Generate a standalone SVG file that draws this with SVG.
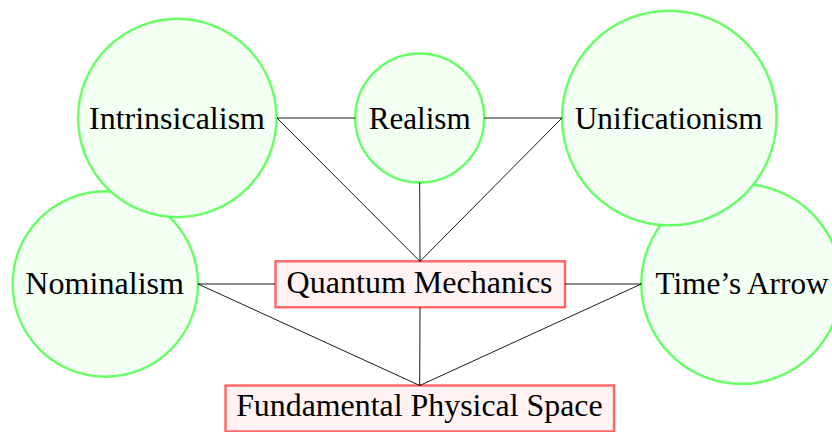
<svg xmlns="http://www.w3.org/2000/svg" width="832" height="432" viewBox="0 0 832 432">
<style>
.c{fill:#f2fff2;stroke:#66ff66;stroke-width:2.4}
.b{fill:#fff2f2;stroke:#ff6666;stroke-width:2.4}
.t{font-family:"Liberation Serif","DejaVu Serif",serif;font-size:31px;fill:#000;text-anchor:middle}
.e{stroke:#000;stroke-width:0.9;fill:none}
</style>
<rect width="832" height="432" fill="#fff"/>
<g id="nominalism"><circle class="c" cx="105.3" cy="284" r="92.7"/><text class="t" x="104.7" y="294" textLength="158.7" lengthAdjust="spacingAndGlyphs">Nominalism</text></g>
<g id="times-arrow"><circle class="c" cx="741.3" cy="284" r="100"/><text class="t" x="742" y="294" textLength="173" lengthAdjust="spacingAndGlyphs">Time’s Arrow</text></g>
<g id="intrinsicalism"><circle class="c" cx="177.3" cy="118" r="99.2"/><text class="t" x="177" y="129" textLength="176" lengthAdjust="spacingAndGlyphs">Intrinsicalism</text></g>
<g id="realism"><circle class="c" cx="419.7" cy="118" r="64.5"/><text class="t" x="419.7" y="129" textLength="102" lengthAdjust="spacingAndGlyphs">Realism</text></g>
<g id="unificationism"><circle class="c" cx="669.3" cy="118" r="107.3"/><text class="t" x="668.7" y="129" textLength="188" lengthAdjust="spacingAndGlyphs">Unificationism</text></g>
<g id="quantum-mechanics"><rect class="b" x="275.5" y="261.3" width="289.5" height="46"/><text class="t" x="419.6" y="293" textLength="266" lengthAdjust="spacingAndGlyphs">Quantum Mechanics</text></g>
<g id="fundamental-physical-space"><rect class="b" x="225.5" y="385.5" width="388.5" height="46"/><text class="t" x="419.4" y="416" textLength="366.5" lengthAdjust="spacingAndGlyphs">Fundamental Physical Space</text></g>
<g id="connectors">
<line class="e" x1="277" y1="118" x2="355.2" y2="118"/>
<line class="e" x1="484.2" y1="118" x2="562" y2="118"/>
<line class="e" x1="277" y1="118" x2="420" y2="261.3"/>
<line class="e" x1="419.7" y1="182.5" x2="420" y2="261.3"/>
<line class="e" x1="562" y1="118" x2="420" y2="261.3"/>
<line class="e" x1="198" y1="284" x2="275" y2="284"/>
<line class="e" x1="565" y1="284" x2="641.3" y2="284"/>
<line class="e" x1="198" y1="284" x2="419.7" y2="385.5"/>
<line class="e" x1="420" y1="307.3" x2="419.7" y2="385.5"/>
<line class="e" x1="641.3" y1="284" x2="419.7" y2="385.5"/>
</g>
</svg>
